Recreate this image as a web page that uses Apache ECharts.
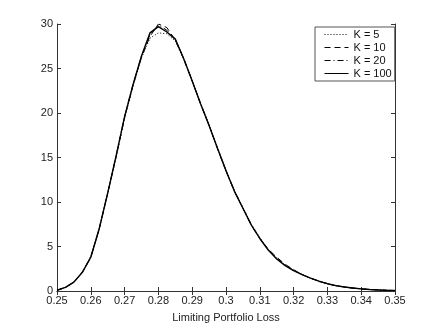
<!DOCTYPE html>
<html>
<head>
<meta charset="utf-8">
<script src="https://cdn.jsdelivr.net/npm/echarts@6/dist/echarts.min.js"></script>
<style>
  html, body { margin: 0; padding: 0; background: #fff; }
  #chart { width: 436px; height: 328px; }
</style>
</head>
<body>
<div id="chart"></div>
<script>
// loss grid (x values)
const xs = [0.25, 0.2525, 0.255, 0.2575, 0.26, 0.2625, 0.265, 0.2675, 0.27, 0.2725,
  0.275, 0.2775, 0.28, 0.2825, 0.285, 0.2875, 0.29, 0.2925, 0.295, 0.2975,
  0.30, 0.3025, 0.305, 0.3075, 0.31, 0.3125, 0.315, 0.3175, 0.32, 0.3225,
  0.325, 0.3275, 0.33, 0.3325, 0.335, 0.3375, 0.34, 0.3425, 0.345, 0.3475, 0.35]

// density estimates per K
const k5 = [0.08, 0.42, 1.0, 2.1, 3.9, 7.1, 11.0, 15.0, 19.4, 23.0,
  26.2, 28.4, 29.0, 28.9, 28.1, 26.0, 23.6, 21.1, 18.7, 16.1,
  13.6, 11.3, 9.4, 7.5, 6.0, 4.7, 3.7, 2.9, 2.35, 1.85,
  1.45, 1.1, 0.82, 0.6, 0.45, 0.33, 0.24, 0.17, 0.12, 0.08, 0.05]
const k10 = [0.08, 0.4, 1.0, 2.1, 3.8, 7.0, 11.0, 15.1, 19.5, 23.1,
  26.3, 28.6, 30.0, 29.6, 28.2, 26.1, 23.6, 21.0, 18.6, 16.0,
  13.5, 11.2, 9.3, 7.4, 5.9, 4.7, 3.8, 3.0, 2.4, 1.85,
  1.45, 1.1, 0.82, 0.6, 0.45, 0.33, 0.24, 0.17, 0.12, 0.08, 0.05]
const k20 = [0.08, 0.4, 1.0, 2.1, 3.8, 7.0, 11.0, 15.2, 19.6, 23.2,
  26.4, 28.8, 29.9, 29.3, 28.3, 26.1, 23.6, 21.0, 18.6, 16.0,
  13.5, 11.2, 9.3, 7.4, 5.9, 4.6, 3.65, 2.9, 2.3, 1.85,
  1.45, 1.1, 0.82, 0.6, 0.45, 0.33, 0.24, 0.17, 0.12, 0.08, 0.05]
const k100 = [0.08, 0.4, 1.0, 2.1, 3.8, 7.0, 11.0, 15.2, 19.6, 23.2,
  26.4, 29.0, 29.7, 29.1, 28.3, 26.1, 23.6, 21.0, 18.6, 16.0,
  13.5, 11.2, 9.3, 7.4, 5.9, 4.6, 3.6, 2.85, 2.3, 1.85,
  1.45, 1.1, 0.82, 0.6, 0.45, 0.33, 0.24, 0.17, 0.12, 0.08, 0.05]

const names = ['K = 5', 'K = 10', 'K = 20', 'K = 100']
const dashes = [[1, 2], [6, 4], [6, 3, 1, 3], 'solid']
const curves = [k5, k10, k20, k100]

const frame = '#333'
const font = 'Liberation Sans, Arial, sans-serif'

const chart = echarts.init(document.getElementById('chart'))

const xBase = {
  type: 'value', min: 0.25, max: 0.35, interval: 0.01,
  axisLine: { show: true, lineStyle: { color: frame, width: 1 } },
  axisTick: { show: true, inside: true, length: 4, lineStyle: { color: frame } },
  splitLine: { show: false },
}
const yBase = {
  type: 'value', min: 0, max: 30, interval: 5,
  axisLine: { show: true, lineStyle: { color: frame, width: 1 } },
  axisTick: { show: true, inside: true, length: 4, lineStyle: { color: frame } },
  splitLine: { show: false },
}

chart.setOption({
  animation: false,
  backgroundColor: '#fff',
  grid: { left: 57, right: 41, top: 24, bottom: 37 },
  legend: {
    data: names,
    orient: 'vertical',
    left: 315, top: 27,
    itemWidth: 24, itemHeight: 10, itemGap: 2,
    padding: [2, 3, 2, 9],
    borderColor: '#555', borderWidth: 1,
    backgroundColor: '#fff',
    itemStyle: { opacity: 0 },
    lineStyle: { width: 1 },
    textStyle: { fontFamily: font, fontSize: 11, color: '#111', lineHeight: 10 },
  },
  xAxis: [
    {
      ...xBase, position: 'bottom',
      name: 'Limiting Portfolio Loss', nameLocation: 'middle', nameGap: 21,
      nameTextStyle: { fontFamily: font, fontSize: 11, color: '#222' },
      axisLabel: { fontFamily: font, fontSize: 11, color: '#222', margin: 4 },
    },
    { ...xBase, position: 'top', axisLabel: { show: false } },
  ],
  yAxis: [
    {
      ...yBase, position: 'left',
      axisLabel: { fontFamily: font, fontSize: 11, color: '#222', margin: 4 },
    },
    { ...yBase, position: 'right', axisLabel: { show: false } },
  ],
  series: curves.map((vals, i) => ({
    name: names[i],
    type: 'line',
    xAxisIndex: 0, yAxisIndex: 0,
    data: xs.map((x, j) => [x, vals[j]]),
    symbol: 'none',
    lineStyle: { color: '#000', width: i === 3 ? 1.4 : 1, type: dashes[i] },
    itemStyle: { color: '#000' },
    z: 10 - i,
  })),
})
</script>
</body>
</html>
